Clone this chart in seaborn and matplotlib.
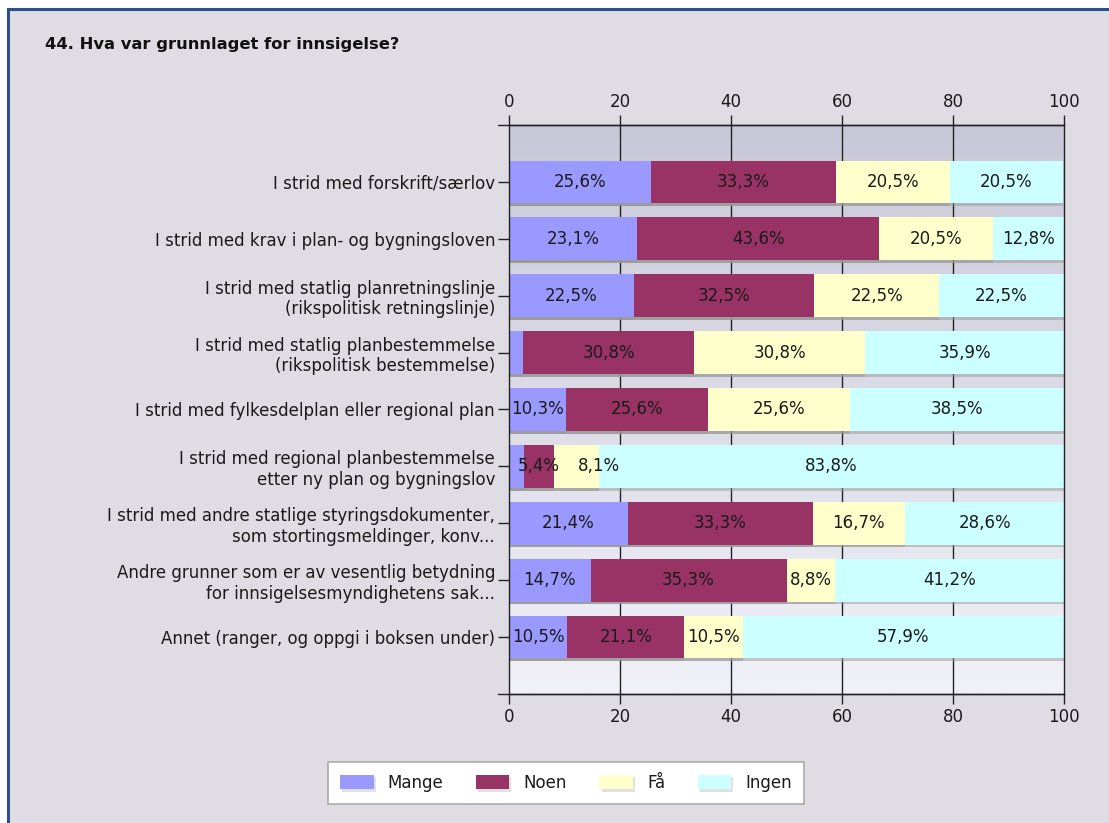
import numpy as np
import pandas as pd
import matplotlib
matplotlib.use("Agg")
import matplotlib.pyplot as plt
import matplotlib.patheffects as pe
from matplotlib.patches import Patch, Rectangle
import seaborn as sns

# data (percent per answer)
categories = [
    "I strid med forskrift/særlov",
    "I strid med krav i plan- og bygningsloven",
    "I strid med statlig planretningslinje\n(rikspolitisk retningslinje)",
    "I strid med statlig planbestemmelse\n(rikspolitisk bestemmelse)",
    "I strid med fylkesdelplan eller regional plan",
    "I strid med regional planbestemmelse\netter ny plan og bygningslov",
    "I strid med andre statlige styringsdokumenter,\nsom stortingsmeldinger, konv...",
    "Andre grunner som er av vesentlig betydning\nfor innsigelsesmyndighetens sak...",
    "Annet (ranger, og oppgi i boksen under)",
]
mange = [25.6, 23.1, 22.5, 2.6, 10.3, 2.7, 21.4, 14.7, 10.5]
noen = [33.3, 43.6, 32.5, 30.8, 25.6, 5.4, 33.3, 35.3, 21.1]
faa = [20.5, 20.5, 22.5, 30.8, 25.6, 8.1, 16.7, 8.8, 10.5]
ingen = [20.5, 12.8, 22.5, 35.9, 38.5, 83.8, 28.6, 41.2, 57.9]

series_names = ["Mange", "Noen", "Få", "Ingen"]
colors = ["#9999ff", "#993366", "#ffffcc", "#ccffff"]

sns.set_theme(style="white")
plt.rcParams["font.family"] = ["DejaVu Sans"]
text_col = "#1a1a1a"

df = pd.DataFrame({"kat": categories, "Mange": mange, "Noen": noen,
                   "Få": faa, "Ingen": ingen})
cum = df[series_names].cumsum(axis=1)

fig = plt.figure(figsize=(11.09, 8.23), dpi=100)
fig.patch.set_facecolor("white")
fig.add_artist(Rectangle((8 / 1109, -0.05), 1.2, 1 - 9 / 823 + 0.05,
                         transform=fig.transFigure, facecolor="#dfdde3",
                         edgecolor="#2b4e8c", linewidth=2.2, zorder=-10))

ax = fig.add_axes([509 / 1109, 1 - 694 / 823, 555 / 1109, 569 / 823])
ax.set_facecolor("none")

# gradient background of the plot area
grad = np.linspace(0, 1, 256).reshape(-1, 1)
cmap = matplotlib.colors.LinearSegmentedColormap.from_list("bg", ["#c8c8d8", "#f1f1f8"])
ax.imshow(grad, cmap=cmap, extent=[0, 100, 9, -1], aspect="auto", zorder=0)

for x in [20, 40, 60, 80]:
    ax.axvline(x, color="#222222", lw=1, zorder=0.5)

# stacked bars: draw cumulative totals from largest to smallest
for name, col in zip(series_names[::-1], colors[::-1]):
    sns.barplot(x=cum[name], y=df["kat"], orient="h", color=col,
                saturation=1, width=0.75, ax=ax, zorder=2)

for p in ax.patches:
    p.set_linewidth(0)
    p.set_path_effects([pe.SimplePatchShadow(offset=(0, -2), shadow_rgbFace="#999999", alpha=0.5),
                        pe.Normal()])

ax.set_xlim(0, 100)
ax.set_ylim(9, -1)

# value labels, nudged right when they would run into the previous one
fig.canvas.draw()
renderer = fig.canvas.get_renderer()
for i in range(len(categories)):
    left = 0
    prev = None
    for name in series_names:
        v = df[name][i]
        if v >= 3:
            t = ax.text(left + v / 2, i, f"{v:.1f}%".replace(".", ","), ha="center",
                        va="center", fontsize=12, color=text_col, zorder=5)
            if prev is not None:
                b0 = prev.get_window_extent(renderer)
                b1 = t.get_window_extent(renderer)
                if b1.x0 < b0.x1 + 4:
                    shift = (b0.x1 + 18 - b1.x0) / ax.bbox.width * 100
                    t.set_x(left + v / 2 + shift)
            prev = t
        left += v

ax.set_xticks([0, 20, 40, 60, 80, 100])
ax.set_xlabel("")
ax.set_ylabel("")
ax.tick_params(axis="x", top=True, bottom=True, labeltop=True, labelbottom=True,
               direction="out", length=7, width=1, color="#222222",
               labelsize=12, labelcolor=text_col, pad=3)
ax.tick_params(axis="y", left=True, direction="out", length=8, width=1,
               color="#222222", labelsize=12, labelcolor=text_col, pad=2)
for s in ax.spines.values():
    s.set_color("#222222")
    s.set_linewidth(1)
    s.set_zorder(6)

# top and bottom axis lines reach a little to the left
for yy in [0, 1]:
    ax.plot([-11 / 555, 1], [yy, yy], transform=ax.transAxes, color="#222222",
            lw=1, clip_on=False, zorder=6)

fig.text(45 / 1109, 1 - 45 / 823, "44. Hva var grunnlaget for innsigelse?",
         fontsize=11.8, fontweight="bold", color="#111111", va="center", ha="left")

handles = [Patch(facecolor=c, edgecolor="none", label=n) for n, c in zip(series_names, colors)]
leg = fig.legend(handles=handles, ncol=4, loc="center",
                 bbox_to_anchor=(566 / 1109, 1 - 783 / 823), frameon=True,
                 fancybox=False, edgecolor="#aaaaaa", facecolor="white", framealpha=1,
                 fontsize=12, handlelength=2.0, handleheight=0.95,
                 handletextpad=0.85, columnspacing=1.95, borderpad=0.72)
leg.get_frame().set_linewidth(1.2)
for t in leg.get_texts():
    t.set_color(text_col)
for p in leg.get_patches():
    p.set_path_effects([pe.SimplePatchShadow(offset=(1.5, -1.5), shadow_rgbFace="#aaaaaa", alpha=0.35),
                        pe.Normal()])

fig.savefig("out.png", dpi=100)
